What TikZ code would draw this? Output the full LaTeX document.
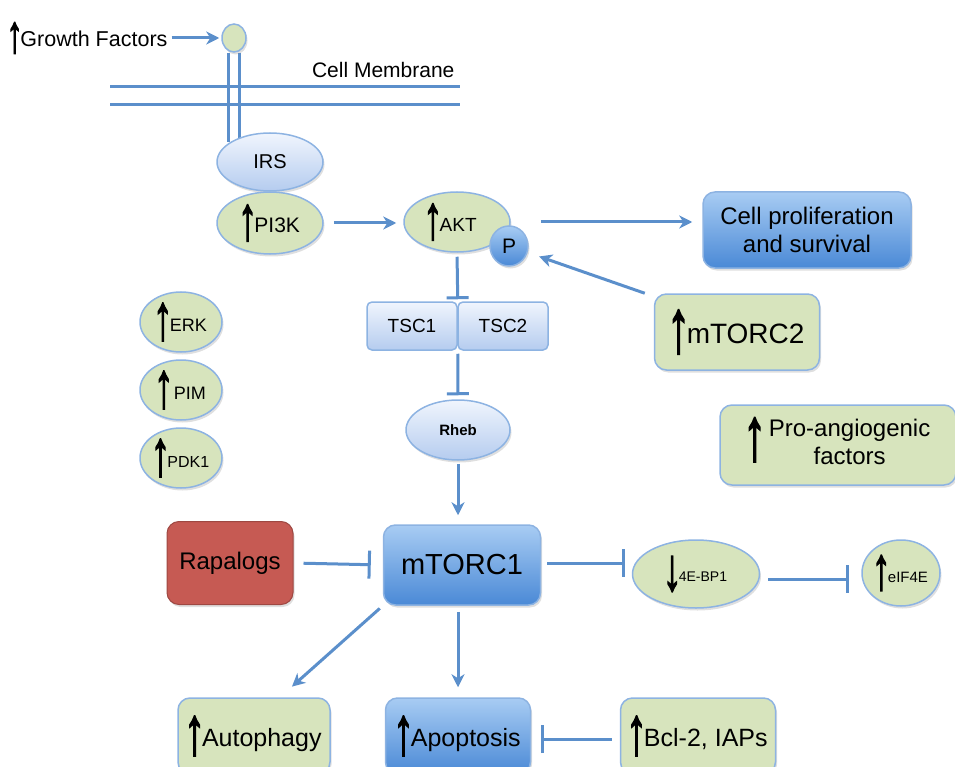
\documentclass[tikz,border=0pt]{standalone}
\usepackage{fontspec}
\setmainfont{Liberation Sans}
\newfontfamily\arrfont[FakeBold=2.5]{Liberation Sans}
\usetikzlibrary{arrows.meta,shapes.geometric,shadows,calc}
\newcommand\uarr[1]{\hspace{-0.06\dimexpr#1pt\relax}\raisebox{-0.2\dimexpr#1pt\relax}{\resizebox{0.55\dimexpr#1pt\relax}{#1pt}{\arrfont ↑}}\hspace{-0.08\dimexpr#1pt\relax}}
\newcommand\darr[1]{\hspace{-0.06\dimexpr#1pt\relax}\raisebox{-0.25\dimexpr#1pt\relax}{\resizebox{0.55\dimexpr#1pt\relax}{#1pt}{\arrfont ↓}}\hspace{-0.08\dimexpr#1pt\relax}}
\newcommand\fsz[2]{\fontsize{#1}{#2}\selectfont}
\definecolor{lineblue}{HTML}{5B8FCB}
\definecolor{gfill}{HTML}{D7E4BD}
\definecolor{gborder}{HTML}{8DB3E2}
\definecolor{btop}{HTML}{A8CCF3}
\definecolor{bbot}{HTML}{4A89D6}
\definecolor{ltop}{HTML}{F0F5FD}
\definecolor{lbot}{HTML}{B5CCEF}
\definecolor{rfill}{HTML}{C65A53}
\pgfdeclarelayer{bg}
\pgfsetlayers{bg,main}
\tikzset{
  shad/.style={drop shadow={opacity=0.25,shadow xshift=1.5pt,shadow yshift=-2.5pt}},
  gell/.style={ellipse, draw=gborder, line width=1.5pt, fill=gfill, inner sep=0pt, align=center, shad},
  lell/.style={ellipse, draw=gborder, line width=1.5pt, top color=ltop, bottom color=lbot, inner sep=0pt, align=center, shad},
  gbox/.style={rectangle, rounded corners=12pt, draw=gborder, line width=1.5pt, fill=gfill, inner sep=0pt, align=center, shad},
  bbox/.style={rectangle, rounded corners=12pt, draw=gborder, line width=1.5pt, top color=btop, bottom color=bbot, inner sep=0pt, align=center, shad},
  lbox/.style={rectangle, rounded corners=5pt, draw=gborder, line width=1.5pt, top color=ltop, bottom color=lbot, inner sep=0pt, align=center},
  rbox/.style={rectangle, rounded corners=12pt, draw=rfill!80!black, line width=1pt, fill=rfill, inner sep=0pt, align=center, shad},
  act/.style={draw=lineblue, line width=3pt, -{Stealth[length=13pt,width=13pt,inset=4pt]}},
  inh/.style={draw=lineblue, line width=3pt, -{Bar[width=28pt]}},
  inhs/.style={draw=lineblue, line width=3pt, -{Bar[width=22pt]}},
  plain/.style={draw=lineblue, line width=3pt},
}
\begin{document}
\begin{tikzpicture}[x=1pt,y=-1pt]
\useasboundingbox (0,0) rectangle (955,767);
\clip (0,0) rectangle (955,767);

% membrane
\coordinate (m1l) at (110,87);
\coordinate (m1r) at (460,87);
\coordinate (m2l) at (110,105);
\coordinate (m2r) at (460,105);
\draw[plain] (m1l) -- (m1r);
\draw[plain] (m2l) -- (m2r);
\node[anchor=base east, font=\fsz{21}{24}] (cm) at (458,78) {Cell Membrane};

% nodes
\node[anchor=west, font=\fsz{21.5}{24}, inner sep=0pt] (gf) at (8,38) {\uarr{30}Growth Factors};
\node[gell, minimum width=24pt, minimum height=28pt] (gfc) at (234,38) {};
\node[lell, minimum width=106pt, minimum height=58pt, font=\fsz{20}{24}] (irs) at (270,162) {IRS};
\node[gell, minimum width=106pt, minimum height=62pt, font=\fsz{21}{24}] (pi3k) at (270,223) {\uarr{35}PI3K};
\node[gell, minimum width=106pt, minimum height=60pt, font=\fsz{19}{24}] (akt) at (457,222) {\uarr{35}AKT\hspace{12pt}};
\node[bbox, ellipse, minimum width=38pt, minimum height=40pt, font=\fsz{21}{24}] (p) at (509,246) {P};
\node[bbox, minimum width=208pt, minimum height=76pt, font=\fsz{24}{28}] (cp) at (807,230) {Cell proliferation\\and survival};
\node[gbox, minimum width=165pt, minimum height=76pt, font=\fsz{28}{32}] (m2) at (737,332) {\uarr{42}mTORC2};
\node[lbox, minimum width=90pt, minimum height=48pt, font=\fsz{19}{24}] (tsc1) at (412,326) {TSC1};
\node[lbox, minimum width=90pt, minimum height=48pt, font=\fsz{19}{24}] (tsc2) at (503,326) {TSC2};
\node[lell, minimum width=104pt, minimum height=60pt, font=\bfseries\fsz{15}{18}] (rheb) at (458,430) {Rheb};
\node[gell, minimum width=82pt, minimum height=60pt, font=\fsz{18}{22}] (erk) at (181,322) {\uarr{36}ERK};
\node[gell, minimum width=82pt, minimum height=60pt, font=\fsz{18}{22}] (pim) at (181,390) {\uarr{36}\,PIM};
\node[gell, minimum width=82pt, minimum height=60pt, font=\fsz{16}{20}] (pdk) at (181,458) {\uarr{36}PDK1};
\node[gbox, minimum width=236pt, minimum height=80pt, font=\fsz{24}{28}] (pro) at (838,445) {\uarr{42}\hspace{6pt}\begin{tabular}{@{}c@{}}Pro-angiogenic\\factors\end{tabular}};
\node[rbox, minimum width=126pt, minimum height=83pt, font=\fsz{24}{28}] (rap) at (230,563) {Rapalogs};
\node[bbox, minimum width=157pt, minimum height=80pt, font=\fsz{29}{32}] (m1) at (462,565) {mTORC1};
\node[gell, minimum width=127pt, minimum height=68pt, font=\fsz{14}{18}] (ebp) at (696,574) {\darr{34}4E-BP1};
\node[gell, minimum width=78pt, minimum height=66pt, font=\fsz{15}{18}] (eif) at (901,573) {\uarr{34}eIF4E};
\node[gbox, minimum width=152pt, minimum height=76pt, font=\fsz{25}{28}] (auto) at (254,736) {\uarr{38}Autophagy};
\node[bbox, minimum width=145pt, minimum height=76pt, font=\fsz{25}{28}] (apo) at (458,736) {\uarr{38}Apoptosis};
\node[gbox, minimum width=155pt, minimum height=76pt, font=\fsz{25}{28}] (bcl) at (698,736) {\uarr{38}Bcl-2, IAPs};

\begin{pgfonlayer}{bg}
  \draw[act, shorten <=4pt, shorten >=2pt] (gf.east) -- (gfc.west);
  \draw[plain] ([xshift=-5.5pt]gfc.south) -- ([xshift=-5.5pt]gfc.south |- irs.north) -- ++(0,10);
  \draw[plain] ([xshift=5.5pt]gfc.south) -- ([xshift=5.5pt]gfc.south |- irs.north) -- ++(0,10);
  \draw[act, shorten <=10pt, shorten >=7pt] (pi3k.east) -- (pi3k.east -| akt.west);
  \draw[act, shorten <=30pt, shorten >=10pt] (akt.east) -- (akt.east -| cp.west);
  \draw[act, shorten <=0pt, shorten >=12pt] ([xshift=-9pt]m2.north west) -- (p);
  \draw[inhs, shorten <=4pt, shorten >=2pt] (akt.south) -- (tsc1.north east);
  \draw[inhs, shorten <=3pt, shorten >=4pt] (tsc1.south east) -- (rheb.north);
  \draw[act, shorten <=3pt, shorten >=9pt] (rheb.south) -- (rheb.south |- m1.north);
  \draw[inh, shorten <=10pt, shorten >=12pt] (rap.east) -- (m1.west);
  \draw[inh, shorten <=6pt, shorten >=7pt] ([yshift=2pt]m1.east) -- ([yshift=2pt]m1.east -| ebp.west);
  \draw[inh, shorten <=8pt, shorten >=12pt] ([yshift=-5pt]ebp.east) -- ([yshift=-5pt]ebp.east -| eif.west);
  \draw[act, shorten <=4pt, shorten >=16pt] (m1.south west) -- ([xshift=26pt]auto.north);
  \draw[act, shorten <=6pt, shorten >=10pt] (m1.south -| apo.north) -- (apo.north);
  \draw[inh, shorten <=8pt, shorten >=10pt] ([yshift=-3pt]bcl.west) -- ([yshift=-3pt]apo.east);
\end{pgfonlayer}
\end{tikzpicture}
\end{document}
